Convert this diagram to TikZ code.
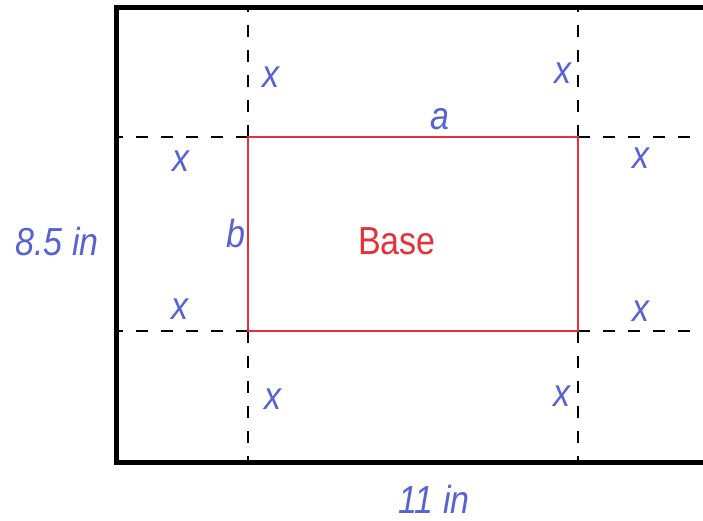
\documentclass[tikz,border=0pt]{standalone}
\usepackage{fontspec}
\setmainfont{Liberation Sans}
\usepackage{graphicx}
\definecolor{lblue}{RGB}{88,98,210}
\definecolor{lred}{RGB}{232,48,58}
\newcommand{\tallt}[1]{\scalebox{1}[1.15]{#1}}
\begin{document}
\begin{tikzpicture}[x=1pt,y=-1pt,
  lbl/.style={text=lblue,font=\fontsize{34}{34}\selectfont\itshape,inner sep=0pt},
  basetext/.style={text=lred,font=\fontsize{34}{34}\selectfont,inner sep=0pt},
  dashln/.style={draw=black,line width=1.8pt,dash pattern=on 12pt off 13pt},
  redln/.style={draw=lred,line width=1.6pt},
  border/.style={draw=black,line width=5pt,line join=miter}]
\useasboundingbox (0,0) rectangle (703,520);
% corners of the base
\coordinate (TL) at (248,137);
\coordinate (TR) at (578,137);
\coordinate (BL) at (248,331);
\coordinate (BR) at (578,331);
% points on the sheet border
\coordinate (T1) at (248,7);
\coordinate (T2) at (578,7);
\coordinate (B1) at (248,462);
\coordinate (B2) at (578,462);
\coordinate (L1) at (116,137);
\coordinate (L2) at (116,331);
\coordinate (R1) at (703,137);
\coordinate (R2) at (703,331);
\coordinate (STR) at (703,7);
\coordinate (STL) at (116,7);
\coordinate (SBL) at (116,462);
\coordinate (SBR) at (703,462);
% dashed fold lines
\draw[dashln] (TL) -- (T1);
\draw[dashln] (TR) -- (T2);
\draw[dashln] (BL) -- (B1);
\draw[dashln] (BR) -- (B2);
\draw[dashln] (TL) -- (L1);
\draw[dashln] (BL) -- (L2);
\draw[dashln] (TR) -- (R1);
\draw[dashln] (BR) -- (R2);
% base rectangle
\draw[redln] (TL) rectangle (BR);
% sheet border
\draw[border] (STR) -- (STL) -- (SBL) -- (SBR);
% labels
\node[lbl] (x1) at (271,77) {\tallt{x}};
\node[lbl] (x2) at (563,73) {\tallt{x}};
\node[lbl] (x3) at (181,161) {\tallt{x}};
\node[lbl] (x4) at (641,158) {\tallt{x}};
\node[lbl] (x5) at (180,309) {\tallt{x}};
\node[lbl] (x6) at (641,311) {\tallt{x}};
\node[lbl] (x7) at (273,399) {\tallt{x}};
\node[lbl] (x8) at (562,396) {\tallt{x}};
\node[lbl] (a) at (440,119) {\tallt{a}};
\node[lbl] (b) at (236,234) {\tallt{b}};
\node[basetext] (base) at (397,241) {\tallt{Base}};
\node[lbl] (h) at (57,242) {\tallt{8.5 in}};
\node[lbl] (w) at (434,499) {\tallt{11 in}};
\end{tikzpicture}
\end{document}
